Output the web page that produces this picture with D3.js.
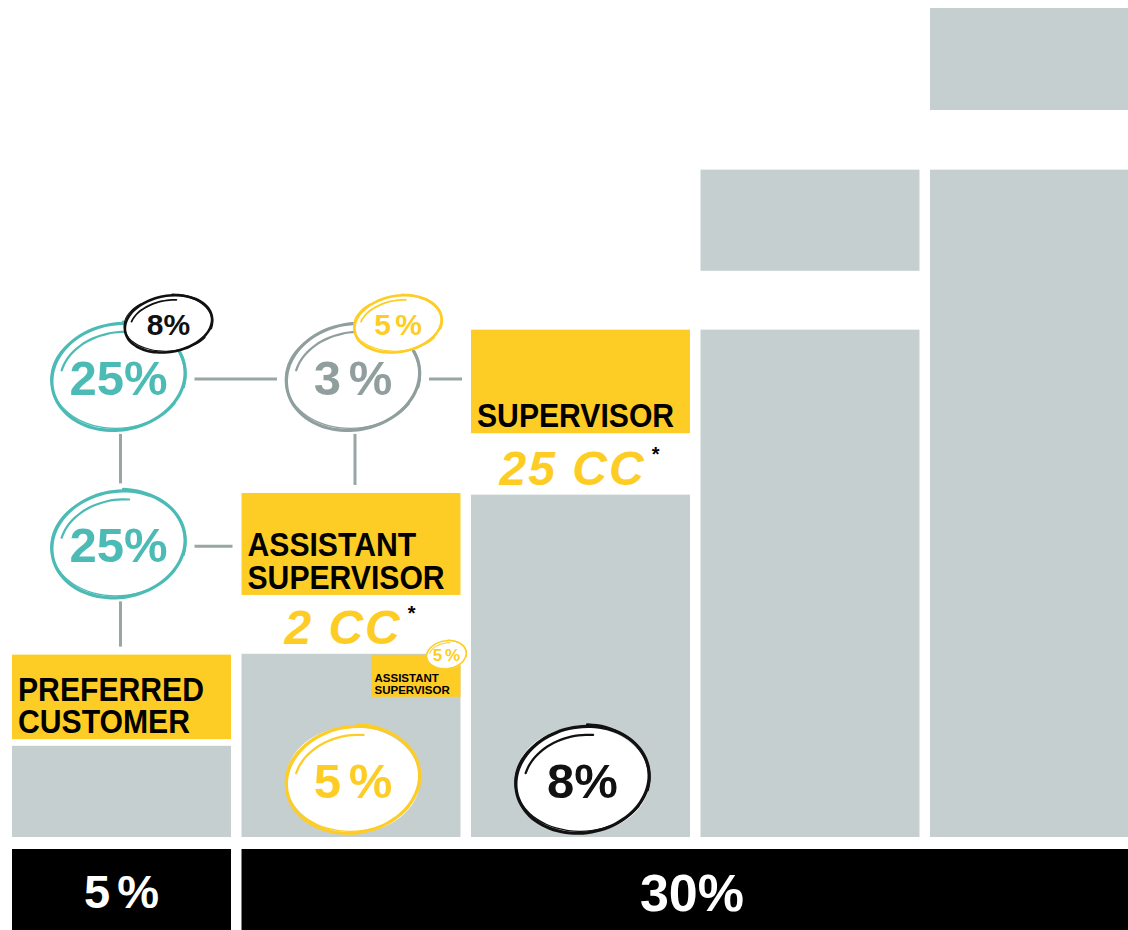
<!DOCTYPE html>
<html lang="en">
<head>
	<meta charset="UTF-8">
	<title>Rank plan</title>
	<script src="https://d3js.org/d3.v7.min.js"></script>
	<style>
		html, body { margin: 0; padding: 0; background: #fff; }
		svg { display: block; }
		text { font-family: "Liberation Sans", Arial, Helvetica, sans-serif; font-weight: bold; }
	</style>
</head>
<body>
<div id="chart"></div>
<script>
	// ranks, left to right
	const categories = ['Preferred Customer', 'Assistant Supervisor', 'Supervisor', 'Rank 4', 'Rank 5']
	// gray bar top, and the box sitting above it (0..100 scale)
	const barTop = [11, 22.1, 41.3, 61.2, 80.5]
	const boxBottom = [11.8, 29.2, 48.7, 68.3, 87.7]
	const boxTop = [22, 41.5, 61.2, 80.5, 100]
	const boxLabels = [['PREFERRED', 'CUSTOMER'], ['ASSISTANT', 'SUPERVISOR'], ['SUPERVISOR'], null, null]
	const ccLabels = [null, '2 CC', '25 CC', null, null]
	// bonus bands at the bottom
	const bandLabels = ['5 %', '30%']
	const bandFrom = [0, 1]
	const bandTo = [0, 4]
	// circled percentages: column, level, text, colour kind, badge
	const ringCol = [0, 1, 0, 1, 2]
	const ringLevel = [55.5, 55.5, 35.3, 6.9, 6.9]
	const ringText = ['25%', '3 %', '25%', '5 %', '8%']
	const ringKind = ['teal', 'gray', 'teal', 'yellow', 'black']
	const badgeText = ['8%', '5 %', null, null, null]
	const badgeKind = ['black', 'yellow', null, null, null]
	// connectors between rings (r) and yellow boxes (b)
	const links = [
		['r0', 'r1', 'h'], ['r1', 'b2', 'h'], ['r0', 'r2', 'v'],
		['r1', 'b1', 'v'], ['r2', 'b1', 'h'], ['r2', 'b0', 'v']
	]

	const colors = {
		teal: '#4dbbb5', gray: '#909f9e', yellow: '#fecd25', black: '#111',
		bar: '#c5cfcf', box: '#fecd25', line: '#98a6a5'
	}

	const width = 1128, height = 930
	const svg = d3.select('#chart').append('svg').attr('width', width).attr('height', height)

	const x = d3.scaleBand().domain(categories).range([12, 1149]).paddingInner(0.0458).paddingOuter(0)
	const y = d3.scaleLinear().domain([0, 100]).range([837, 8])
	const bw = x.bandwidth()
	const cx = i => x(categories[i]) + bw / 2

	// gray bars
	svg.selectAll('.bar').data(categories).join('rect')
		.attr('x', d => x(d)).attr('width', bw)
		.attr('y', (d, i) => y(barTop[i])).attr('height', (d, i) => y(0) - y(barTop[i]))
		.attr('fill', colors.bar)

	// upper boxes (yellow with label, gray otherwise)
	svg.selectAll('.box').data(categories).join('rect')
		.attr('x', d => x(d)).attr('width', bw)
		.attr('y', (d, i) => y(boxTop[i])).attr('height', (d, i) => y(boxBottom[i]) - y(boxTop[i]))
		.attr('fill', (d, i) => boxLabels[i] ? colors.box : colors.bar)

	boxLabels.forEach((lines, i) => {
		if (!lines) return
		const t = svg.append('text').attr('font-size', 29).attr('fill', '#000')
			.attr('transform', `translate(${x(categories[i]) + 6},${y(boxBottom[i]) - 6}) scale(1.04,1.12)`)
		lines.forEach((l, k) => {
			t.append('tspan').attr('x', 0)
				.attr('y', -(lines.length - 1 - k) * 29).text(l)
		})
	})

	// "CC" requirement text above the bars
	ccLabels.forEach((l, i) => {
		if (!l) return
		const t = svg.append('text').attr('x', cx(i)).attr('y', y(barTop[i]) - 10)
			.attr('text-anchor', 'middle').attr('fill', colors.yellow)
			.attr('font-size', 48).attr('font-style', 'italic').attr('letter-spacing', 2)
		t.append('tspan').text(l)
		t.append('tspan').attr('fill', '#000').attr('font-size', 20).attr('font-style', 'normal')
			.attr('dx', 6).attr('dy', -24).text('*')
	})

	// small assistant supervisor tag on column 2
	const tagW = 89, tagH = 42
	const tagX = x(categories[1]) + bw - tagW, tagY = y(barTop[1]) + 1
	svg.append('rect').attr('x', tagX).attr('y', tagY).attr('width', tagW).attr('height', tagH).attr('fill', colors.box)
	const tt = svg.append('text').attr('font-size', 11.5).attr('fill', '#000')
	tt.append('tspan').attr('x', tagX + 3).attr('y', tagY + tagH - 15).text('ASSISTANT')
	tt.append('tspan').attr('x', tagX + 3).attr('y', tagY + tagH - 3).text('SUPERVISOR')

	// bottom bonus bands
	bandLabels.forEach((l, i) => {
		const x0 = x(categories[bandFrom[i]]), x1 = x(categories[bandTo[i]]) + bw
		svg.append('rect').attr('x', x0).attr('y', 849).attr('width', x1 - x0).attr('height', height - 849).attr('fill', '#000')
		svg.append('text').attr('x', i === 0 ? (x0 + x1) / 2 : 692).attr('y', i === 0 ? 908 : 911)
			.attr('text-anchor', 'middle').attr('fill', '#fff').attr('font-size', i === 0 ? 47 : 52)
			.attr('word-spacing', -6).text(l)
	})

	// ring geometry
	const big = { rx: 67, ry: 53 }
	const rings = ringText.map((t, i) => ({
		cx: cx(ringCol[i]) + (ringKind[i] === 'teal' ? -3 : 2),
		cy: y(ringLevel[i]), rx: big.rx, ry: big.ry
	}))
	const boxes = categories.map((c, i) => ({
		left: x(c), right: x(c) + bw, top: y(boxTop[i]), cx: cx(i), cy: (y(boxTop[i]) + y(boxBottom[i])) / 2
	}))

	// connectors
	const gap = 9
	const node = k => k[0] === 'r'
		? (r => ({ left: r.cx - r.rx, right: r.cx + r.rx, top: r.cy - r.ry, bottom: r.cy + r.ry, cx: r.cx, cy: r.cy }))(rings[+k.slice(1)])
		: boxes[+k.slice(1)]
	links.forEach(([a, b, dir]) => {
		const A = node(a), B = node(b)
		const line = svg.append('line').attr('stroke', colors.line).attr('stroke-width', 3)
		if (dir === 'h') line.attr('x1', A.right + gap).attr('x2', B.left - gap).attr('y1', A.cy + 2).attr('y2', A.cy + 2)
		else line.attr('x1', A.cx + 2).attr('x2', A.cx + 2).attr('y1', A.bottom + 4).attr('y2', B.top - 8)
	})

	// hand-drawn looking ellipse
	const loop = d3.line().curve(d3.curveCardinalClosed)
	const open = d3.line().curve(d3.curveCardinal)
	function ellipsePts(rx, ry, a0, a1, n) {
		const pts = []
		for (let k = 0; k <= n; k++) {
			const a = a0 + (a1 - a0) * k / n
			pts.push([Math.cos(a) * rx, Math.sin(a) * ry])
		}
		return pts
	}
	function sketch(px, py, rx, ry, color, sw) {
		const g = svg.append('g').attr('transform', `translate(${px},${py})`)
		g.append('ellipse').attr('rx', rx).attr('ry', ry).attr('fill', '#fff')
		g.append('path').attr('d', loop(ellipsePts(rx, ry, 0, Math.PI * 2, 48).slice(0, 48)))
			.attr('transform', 'rotate(-10)').attr('fill', 'none').attr('stroke', color).attr('stroke-width', sw)
		g.append('path').attr('d', open(ellipsePts(rx * 1.01, ry * 0.97, Math.PI * 0.2, Math.PI * 1.3, 20)))
			.attr('transform', 'rotate(-4)').attr('fill', 'none').attr('stroke', color).attr('stroke-width', sw * 0.4)
		g.append('path').attr('d', open(ellipsePts(rx * 0.88, ry * 0.84, Math.PI * 1.12, Math.PI * 1.6, 12)))
			.attr('transform', 'rotate(-10)').attr('fill', 'none').attr('stroke', color).attr('stroke-width', sw * 0.7)
			.attr('stroke-linecap', 'round')
		g.append('path').attr('d', open(ellipsePts(rx * 1.0, ry * 1.04, Math.PI * 1.55, Math.PI * 2.1, 12)))
			.attr('transform', 'rotate(-6)').attr('fill', 'none').attr('stroke', color).attr('stroke-width', sw * 0.8)
			.attr('stroke-linecap', 'round')
		return g
	}

	rings.forEach((r, i) => {
		const c = colors[ringKind[i]]
		sketch(r.cx, r.cy, r.rx, r.ry, c, 3.2)
		svg.append('text').attr('x', r.cx).attr('y', r.cy + 18).attr('text-anchor', 'middle')
			.attr('fill', c).attr('font-size', 49).attr('word-spacing', -6).text(ringText[i])
		if (badgeText[i]) {
			const bx = cx(ringCol[i]) + 47, by = r.cy - 53
			const bc = colors[badgeKind[i]]
			sketch(bx, by, 44, 28, bc, 2.6)
			svg.append('text').attr('x', bx).attr('y', by + 11).attr('text-anchor', 'middle')
				.attr('fill', bc).attr('font-size', 30).attr('word-spacing', -4).text(badgeText[i])
		}
	})

	// tiny badge on the tag
	const tbx = tagX + tagW - 14, tby = tagY
	sketch(tbx, tby, 20, 14, colors.yellow, 1.5)
	svg.append('text').attr('x', tbx).attr('y', tby + 6).attr('text-anchor', 'middle')
		.attr('fill', colors.yellow).attr('font-size', 17).attr('word-spacing', -2).text('5 %')
</script>
</body>
</html>
